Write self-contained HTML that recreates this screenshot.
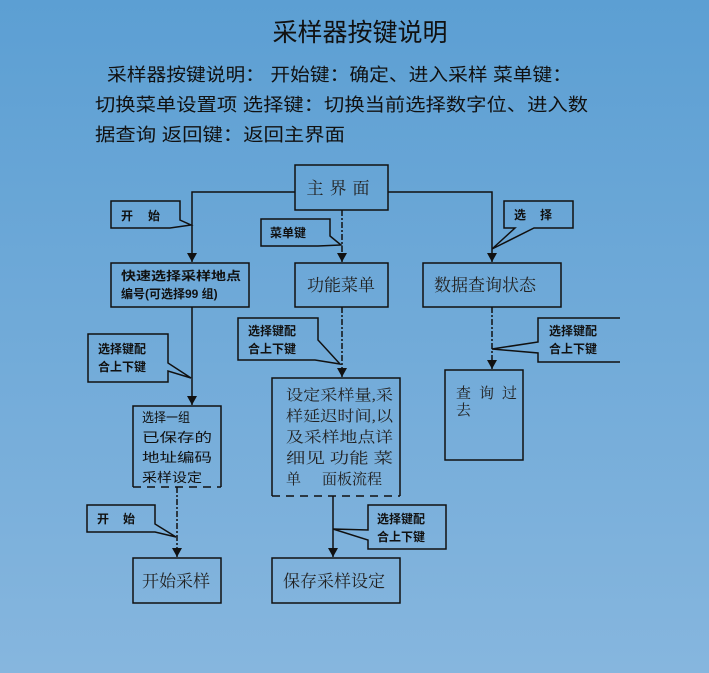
<!DOCTYPE html>
<html><head><meta charset="utf-8"><style>
html,body{margin:0;padding:0;width:709px;height:673px;overflow:hidden}
body{background:linear-gradient(#5c9fd3,#86b6de)}
svg{display:block}
.s{font-family:"Liberation Sans","Noto Sans CJK SC",sans-serif;fill:#111}
.r{font-family:"Liberation Serif","Noto Serif CJK SC",serif;fill:#222}
</style></head><body>
<svg width="709" height="673" viewBox="0 0 709 673" xmlns="http://www.w3.org/2000/svg">
<defs><marker id="a" markerWidth="10" markerHeight="10" refX="5" refY="9" orient="0" markerUnits="userSpaceOnUse"><path d="M0,0 L10,0 L5,9z" fill="#111"/></marker></defs>
<text x="360" y="41" text-anchor="middle" class="s" font-size="25">采样器按键说明</text>
<g class="s" font-size="18">
<text x="107" y="81" textLength="465" lengthAdjust="spacingAndGlyphs">采样器按键说明： 开始键：确定、进入采样  菜单键：</text>
<text x="95" y="111" textLength="493" lengthAdjust="spacingAndGlyphs">切换菜单设置项 选择键：切换当前选择数字位、进入数</text>
<text x="95" y="141" textLength="250" lengthAdjust="spacingAndGlyphs">据查询 返回键：返回主界面</text>
</g>
<g fill="none" stroke="#111" stroke-width="1.5">
<rect x="295" y="165" width="93" height="45"/>
<rect x="111" y="263" width="138" height="44"/>
<rect x="295" y="263" width="93" height="44"/>
<rect x="423" y="263" width="138" height="44"/>
<path d="M133,487 V406 H221 V487"/>
<path d="M133,487 H221" stroke-dasharray="8,6"/>
<path d="M272,496 V378 H400 V496"/>
<path d="M272,496 H400" stroke-dasharray="8,6"/>
<rect x="445" y="370" width="78" height="90"/>
<rect x="133" y="558" width="88" height="45"/>
<rect x="272" y="558" width="128" height="45"/>
<path d="M295,192 H192 V262" marker-end="url(#a)"/>
<path d="M388,192 H492 V262" marker-end="url(#a)"/>
<path d="M342,210 V262" stroke-dasharray="6,2,2,2" marker-end="url(#a)"/>
<path d="M192,307 V405" marker-end="url(#a)"/>
<path d="M342,307 V377" stroke-dasharray="6,2,2,2" marker-end="url(#a)"/>
<path d="M492,307 V369" stroke-dasharray="6,2,2,2" marker-end="url(#a)"/>
<path d="M177,487 V557" stroke-dasharray="6,2,2,2" marker-end="url(#a)"/>
<path d="M333,496 V557" marker-end="url(#a)"/>
<path d="M111,201 H180 V220 L191,225 L170,228 H111 Z"/>
<path d="M261,219 H330 V236 L341,245 L318,246 H261 Z"/>
<path d="M504,201 H573 V228 H534 L492,249 L515,228 H504 Z"/>
<path d="M88,334 H168 V363 L191,378 L168,371 V382 H88 Z"/>
<path d="M238,318 H318 V340 L340,364 L315,360 H238 Z"/>
<path d="M620,318 H538 V342 L492,349 L538,353 V362 H620"/>
<path d="M87,505 H155 V524 L176,537 L155,532 H87 Z"/>
<path d="M368,505 H446 V549 H368 V540 L333,529 L368,530 Z"/>
</g>
<g class="r" font-size="17">
<text x="341" y="194" text-anchor="middle" letter-spacing="6">主界面</text>
<text x="341" y="291" text-anchor="middle">功能菜单</text>
<text x="485" y="291" text-anchor="middle">数据查询状态</text>
<text x="176" y="587" text-anchor="middle">开始采样</text>
<text x="283" y="587">保存采样设定</text>
</g>
<g class="r" font-size="15">
<text x="286" y="400" textLength="107" lengthAdjust="spacingAndGlyphs">设定采样量,采</text>
<text x="286" y="421" textLength="107" lengthAdjust="spacingAndGlyphs">样延迟时间,以</text>
<text x="286" y="442" textLength="107" lengthAdjust="spacingAndGlyphs">及采样地点详</text>
<text x="286" y="463" textLength="107" lengthAdjust="spacingAndGlyphs">细见 功能 菜</text>
<text x="286" y="484">单</text><text x="322" y="484">面板流程</text>
<text x="456" y="398" letter-spacing="8">查询过</text>
<text x="456" y="415">去</text>
</g>
<g class="s" font-size="12" font-weight="bold">
<text x="121" y="220">开</text><text x="148" y="220">始</text>
<text x="270" y="237">菜单键</text>
<text x="514" y="219">选</text><text x="540" y="219">择</text>
<text x="121" y="280" textLength="120" lengthAdjust="spacingAndGlyphs">快速选择采样地点</text>
<text x="121" y="298">编号(可选择99 组)</text>
<text x="98" y="353">选择键配</text><text x="98" y="371">合上下键</text>
<text x="248" y="335">选择键配</text><text x="248" y="353">合上下键</text>
<text x="549" y="335">选择键配</text><text x="549" y="353">合上下键</text>
<text x="97" y="523">开</text><text x="123" y="523">始</text>
<text x="377" y="523">选择键配</text><text x="377" y="541">合上下键</text>
</g>
<g class="s" font-size="13">
<text x="142" y="422" textLength="48" lengthAdjust="spacingAndGlyphs">选择一组</text>
<text x="142" y="442" textLength="70" lengthAdjust="spacingAndGlyphs">已保存的</text>
<text x="142" y="462" textLength="70" lengthAdjust="spacingAndGlyphs">地址编码</text>
<text x="142" y="482" textLength="60" lengthAdjust="spacingAndGlyphs">采样设定</text>
</g>
</svg>
</body></html>
